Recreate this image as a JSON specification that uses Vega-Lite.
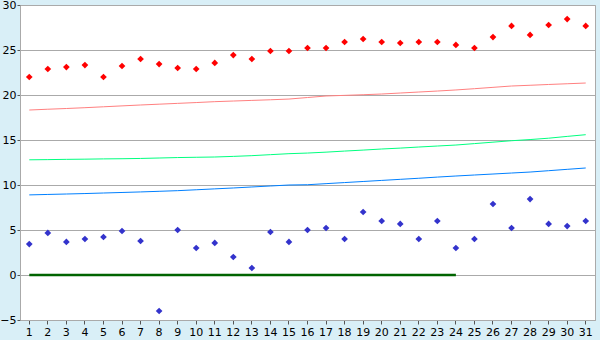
{
  "$schema": "https://vega.github.io/schema/vega-lite/v6.json",
  "autosize": {"type": "none"},
  "padding": {"left": 20, "top": 5, "right": 5, "bottom": 20},
  "width": 575,
  "height": 315,
  "background": "#d9eff7",
  "config": {
    "view": {"fill": "#ffffff", "stroke": "#aaaaaa", "strokeWidth": 1},
    "font": "DejaVu Sans"
  },
  "data": {"values": [
    {"day": 1, "hi": 22.0, "lo": 3.44, "nHi": 18.33, "nMean": 12.8, "nLo": 8.9, "zero": 0},
    {"day": 2, "hi": 22.89, "lo": 4.67, "nHi": 18.42, "nMean": 12.82, "nLo": 8.95, "zero": 0},
    {"day": 3, "hi": 23.1, "lo": 3.67, "nHi": 18.5, "nMean": 12.85, "nLo": 9.0, "zero": 0},
    {"day": 4, "hi": 23.33, "lo": 4.0, "nHi": 18.59, "nMean": 12.87, "nLo": 9.05, "zero": 0},
    {"day": 5, "hi": 22.0, "lo": 4.22, "nHi": 18.69, "nMean": 12.9, "nLo": 9.11, "zero": 0},
    {"day": 6, "hi": 23.22, "lo": 4.89, "nHi": 18.79, "nMean": 12.92, "nLo": 9.17, "zero": 0},
    {"day": 7, "hi": 24.0, "lo": 3.78, "nHi": 18.89, "nMean": 12.95, "nLo": 9.23, "zero": 0},
    {"day": 8, "hi": 23.44, "lo": -4.0, "nHi": 18.98, "nMean": 13.0, "nLo": 9.3, "zero": 0},
    {"day": 9, "hi": 23.0, "lo": 5.0, "nHi": 19.07, "nMean": 13.05, "nLo": 9.37, "zero": 0},
    {"day": 10, "hi": 22.89, "lo": 3.0, "nHi": 19.16, "nMean": 13.08, "nLo": 9.47, "zero": 0},
    {"day": 11, "hi": 23.56, "lo": 3.56, "nHi": 19.26, "nMean": 13.11, "nLo": 9.57, "zero": 0},
    {"day": 12, "hi": 24.44, "lo": 2.0, "nHi": 19.33, "nMean": 13.18, "nLo": 9.67, "zero": 0},
    {"day": 13, "hi": 24.0, "lo": 0.78, "nHi": 19.4, "nMean": 13.26, "nLo": 9.78, "zero": 0},
    {"day": 14, "hi": 24.89, "lo": 4.78, "nHi": 19.47, "nMean": 13.37, "nLo": 9.89, "zero": 0},
    {"day": 15, "hi": 24.89, "lo": 3.67, "nHi": 19.55, "nMean": 13.48, "nLo": 10.0, "zero": 0},
    {"day": 16, "hi": 25.22, "lo": 5.0, "nHi": 19.72, "nMean": 13.55, "nLo": 10.03, "zero": 0},
    {"day": 17, "hi": 25.22, "lo": 5.22, "nHi": 19.89, "nMean": 13.65, "nLo": 10.15, "zero": 0},
    {"day": 18, "hi": 25.89, "lo": 4.0, "nHi": 19.96, "nMean": 13.77, "nLo": 10.27, "zero": 0},
    {"day": 19, "hi": 26.22, "lo": 7.0, "nHi": 20.03, "nMean": 13.88, "nLo": 10.39, "zero": 0},
    {"day": 20, "hi": 25.89, "lo": 6.0, "nHi": 20.11, "nMean": 14.0, "nLo": 10.51, "zero": 0},
    {"day": 21, "hi": 25.78, "lo": 5.67, "nHi": 20.22, "nMean": 14.1, "nLo": 10.63, "zero": 0},
    {"day": 22, "hi": 25.89, "lo": 4.0, "nHi": 20.33, "nMean": 14.22, "nLo": 10.75, "zero": 0},
    {"day": 23, "hi": 25.89, "lo": 6.0, "nHi": 20.44, "nMean": 14.33, "nLo": 10.88, "zero": 0},
    {"day": 24, "hi": 25.56, "lo": 3.0, "nHi": 20.56, "nMean": 14.44, "nLo": 11.0, "zero": 0},
    {"day": 25, "hi": 25.22, "lo": 4.0, "nHi": 20.7, "nMean": 14.6, "nLo": 11.11, "zero": null},
    {"day": 26, "hi": 26.44, "lo": 7.89, "nHi": 20.85, "nMean": 14.76, "nLo": 11.22, "zero": null},
    {"day": 27, "hi": 27.67, "lo": 5.22, "nHi": 21.0, "nMean": 14.92, "nLo": 11.33, "zero": null},
    {"day": 28, "hi": 26.67, "lo": 8.44, "nHi": 21.08, "nMean": 15.05, "nLo": 11.44, "zero": null},
    {"day": 29, "hi": 27.78, "lo": 5.67, "nHi": 21.17, "nMean": 15.2, "nLo": 11.59, "zero": null},
    {"day": 30, "hi": 28.44, "lo": 5.44, "nHi": 21.25, "nMean": 15.4, "nLo": 11.74, "zero": null},
    {"day": 31, "hi": 27.67, "lo": 6.0, "nHi": 21.33, "nMean": 15.59, "nLo": 11.89, "zero": null}
  ]},
  "encoding": {
    "x": {
      "field": "day", "type": "ordinal",
      "scale": {"type": "band", "paddingInner": 0, "paddingOuter": 0},
      "axis": {
        "title": null, "labelAngle": 0, "grid": false,
        "domainColor": "#aaaaaa", "tickColor": "#555555", "tickSize": 4,
        "labelColor": "#000000", "labelFontSize": 11, "labelPadding": 2,
        "labelFont": "DejaVu Sans"
      }
    }
  },
  "layer": [
    {
      "mark": {"type": "line", "color": "#ff8080", "strokeWidth": 1},
      "encoding": {
        "y": {
          "field": "nHi", "type": "quantitative",
          "scale": {"domain": [-5, 30], "nice": false, "zero": false},
          "axis": {
            "title": null, "values": [-5, 0, 5, 10, 15, 20, 25, 30],
            "grid": true, "gridColor": "#aaaaaa", "gridOpacity": 1,
            "domainColor": "#aaaaaa", "tickColor": "#555555", "tickSize": 3,
            "labelColor": "#000000", "labelFontSize": 11, "labelPadding": 1,
            "labelFont": "DejaVu Sans"
          }
        }
      }
    },
    {
      "mark": {"type": "line", "color": "#00ff80", "strokeWidth": 1},
      "encoding": {"y": {"field": "nMean", "type": "quantitative"}}
    },
    {
      "mark": {"type": "line", "color": "#0080ff", "strokeWidth": 1},
      "encoding": {"y": {"field": "nLo", "type": "quantitative"}}
    },
    {
      "mark": {"type": "line", "color": "#006400", "strokeWidth": 2.5},
      "encoding": {"y": {"field": "zero", "type": "quantitative"}}
    },
    {
      "mark": {"type": "point", "shape": "diamond", "filled": true, "color": "#ff0000", "size": 45, "opacity": 1},
      "encoding": {"y": {"field": "hi", "type": "quantitative"}}
    },
    {
      "mark": {"type": "point", "shape": "diamond", "filled": true, "color": "#3333cc", "size": 45, "opacity": 1},
      "encoding": {"y": {"field": "lo", "type": "quantitative"}}
    }
  ]
}
